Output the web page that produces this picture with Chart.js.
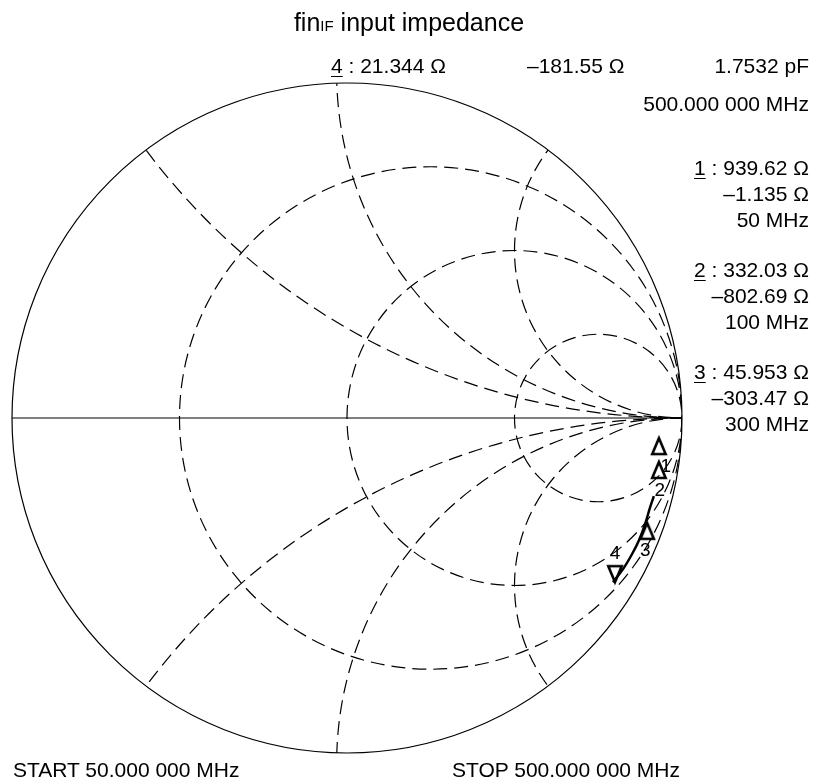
<!DOCTYPE html>
<html>
<head>
<meta charset="utf-8">
<script src="https://cdn.jsdelivr.net/npm/chart.js@4"></script>
<style>
body { margin: 0; background: #fff; }
#wrap { position: relative; width: 818px; height: 780px; font-family: "Liberation Sans", Arial, sans-serif; color: #000; }
#wrap canvas { position: absolute; left: 0; top: 0; }
.t { position: absolute; font-size: 21px; line-height: 21px; white-space: nowrap; }
.r { right: 9px; text-align: right; }
.title { left: 0; width: 818px; text-align: center; font-size: 25px; line-height: 25px; top: 10px; }
.title small { font-size: 15px; }
u { text-decoration-thickness: 1px; text-underline-offset: 3px; }
</style>
</head>
<body>
<div id="wrap">
  <canvas id="smith" width="818" height="780"></canvas>
  <div class="t title">fin<small>IF</small> input impedance</div>
  <div class="t" style="left:331px; top:55px"><u>4</u> : 21.344 Ω</div>
  <div class="t" style="left:527px; top:55px">–181.55 Ω</div>
  <div class="t r" style="top:55px">1.7532 pF</div>
  <div class="t r" style="top:93px">500.000 000 MHz</div>
  <div id="readout"></div>
  <div class="t" style="left:13px; top:759px">START 50.000 000 MHz</div>
  <div class="t" style="left:452px; top:759px">STOP 500.000 000 MHz</div>
</div>
<script>
const traceRe = [0.916, 0.904, 0.890, 0.872, 0.851, 0.824, 0.794];
const traceIm = [-0.233, -0.269, -0.316, -0.364, -0.406, -0.451, -0.490];

// marker positions on the chart
const markerRe = [0.931, 0.931, 0.896, 0.800];
const markerIm = [-0.060, -0.131, -0.313, -0.490];

// marker readouts
const markerNo = ['1', '2', '3', '4'];
const markerR = ['939.62 Ω', '332.03 Ω', '45.953 Ω', '21.344 Ω'];
const markerX = ['–1.135 Ω', '–802.69 Ω', '–303.47 Ω', '–181.55 Ω'];
const markerFreq = ['50 MHz', '100 MHz', '300 MHz', '500.000 000 MHz'];

// smith grid: normalised resistance circles and reactance arcs
const resCircles = [1 / 3, 1, 3];
const reactArcs = [0.5, 0.97, 2];

// readout column for markers 1..3 on the right
const readout = document.getElementById('readout');
for (let i = 0; i < 3; i++) {
    const top = 157 + i * 102;
    const lines = ['<u>' + markerNo[i] + '</u> : ' + markerR[i], markerX[i], markerFreq[i]];
    lines.forEach((txt, k) => {
        const d = document.createElement('div');
        d.className = 't r';
        d.style.top = (top + k * 26) + 'px';
        d.innerHTML = txt;
        readout.appendChild(d);
    });
}

// open triangle marker, apex at the centre of the image
function triangle(down) {
    const c = document.createElement('canvas');
    c.width = 18;
    c.height = 38;
    const g = c.getContext('2d');
    g.lineWidth = 2.6;
    g.strokeStyle = '#000';
    g.beginPath();
    if (down) {
        g.moveTo(9, 19); g.lineTo(2.3, 3); g.lineTo(15.7, 3);
    } else {
        g.moveTo(9, 19); g.lineTo(2.3, 35); g.lineTo(15.7, 35);
    }
    g.closePath();
    g.stroke();
    return c;
}
const triUp = triangle(false);
const triDown = triangle(true);

const smithGrid = {
    id: 'smithGrid',
    beforeDatasetsDraw(chart) {
        const { ctx, scales: { x, y } } = chart;
        const px = v => x.getPixelForValue(v);
        const py = v => y.getPixelForValue(v);
        const unit = px(1) - px(0);
        const cx = px(0), cy = py(0);
        ctx.save();
        ctx.strokeStyle = '#000';
        ctx.lineWidth = 1.2;
        ctx.beginPath();
        ctx.arc(cx, cy, unit, 0, 2 * Math.PI);
        ctx.stroke();
        ctx.beginPath();
        ctx.moveTo(px(-1), cy);
        ctx.lineTo(px(1), cy);
        ctx.stroke();

        // everything else stays inside the unit circle
        ctx.beginPath();
        ctx.arc(cx, cy, unit, 0, 2 * Math.PI);
        ctx.clip();
        ctx.setLineDash([14, 7]);
        resCircles.forEach(r => {
            ctx.beginPath();
            ctx.arc(px(r / (r + 1)), cy, unit / (r + 1), 0, 2 * Math.PI);
            ctx.stroke();
        });
        reactArcs.forEach(xv => {
            [1, -1].forEach(s => {
                ctx.beginPath();
                ctx.arc(px(1), py(s / xv), unit / xv, 0, 2 * Math.PI);
                ctx.stroke();
            });
        });
        ctx.restore();
    }
};

// marker numbers sit under the up triangles, above the down one
const numOffset = [[7, 29], [1, 29], [-2, 28], [0, -28]];
const markerNumbers = {
    id: 'markerNumbers',
    afterDatasetsDraw(chart) {
        const { ctx, scales: { x, y } } = chart;
        ctx.save();
        ctx.fillStyle = '#000';
        ctx.font = '19px "Liberation Sans", Arial, sans-serif';
        ctx.textAlign = 'center';
        ctx.textBaseline = 'middle';
        markerNo.forEach((n, i) => {
            const xp = x.getPixelForValue(markerRe[i]) + numOffset[i][0];
            const yp = y.getPixelForValue(markerIm[i]) + numOffset[i][1];
            ctx.fillText(n, xp, yp);
        });
        ctx.restore();
    }
};

new Chart(document.getElementById('smith'), {
    type: 'scatter',
    data: {
        datasets: [{
            data: traceRe.map((v, i) => ({ x: v, y: traceIm[i] })),
            showLine: true,
            borderColor: '#000',
            borderWidth: 2.5,
            tension: 0.3,
            pointRadius: 0
        }, {
            data: markerRe.map((v, i) => ({ x: v, y: markerIm[i] })),
            showLine: false,
            pointStyle: [triUp, triUp, triUp, triDown],
            pointRadius: 9,
            pointHoverRadius: 9
        }]
    },
    options: {
        responsive: false,
        animation: false,
        events: [],
        layout: { padding: { left: 12, right: 136, top: 83, bottom: 27 } },
        scales: {
            x: { type: 'linear', min: -1, max: 1, display: false },
            y: { type: 'linear', min: -1, max: 1, display: false }
        },
        plugins: { legend: { display: false }, tooltip: { enabled: false } }
    },
    plugins: [smithGrid, markerNumbers]
});
</script>
</body>
</html>
